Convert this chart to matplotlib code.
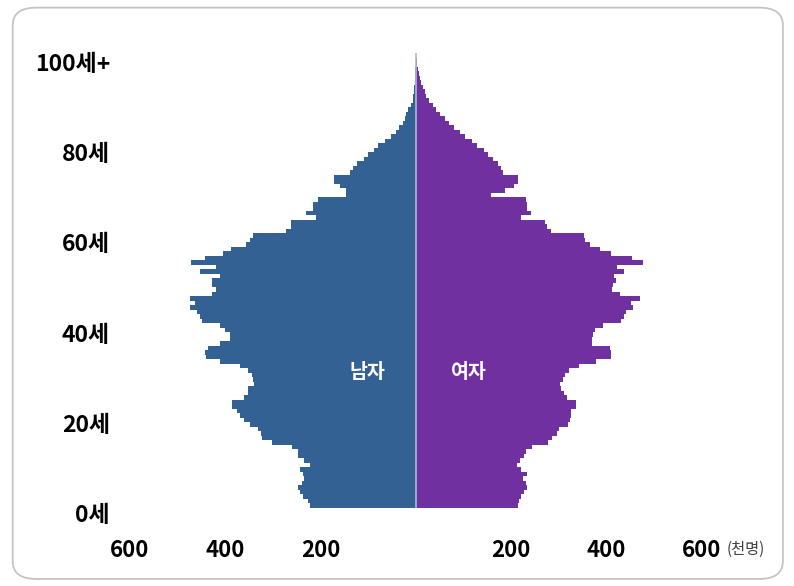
import matplotlib
matplotlib.use("Agg")
import matplotlib.pyplot as plt
from matplotlib.patches import FancyBboxPatch

plt.rcParams["font.family"] = ["Noto Sans CJK KR", "DejaVu Sans"]

# ages 0 .. 100+
ages = list(range(101))

# thousands of persons
male = [
    223, 227, 238, 244, 248, 240, 234, 238, 244, 223,
    234, 248, 248, 261, 303, 324, 326, 332, 349, 360,
    370, 376, 385, 385, 360, 353, 353, 339, 341, 345,
    353, 370, 412, 441, 443, 437, 412, 391, 391, 401,
    412, 450, 454, 460, 475, 464, 475, 427, 420, 427,
    429, 412, 454, 419, 471, 443, 405, 388, 356, 349,
    342, 272, 262, 262, 209, 230, 216, 216, 206, 147,
    147, 160, 171, 171, 139, 133, 123, 110, 100, 89,
    79, 64, 53, 43, 35, 28, 24, 20, 16, 11.5,
    7, 6, 5, 4, 3, 2.5, 2, 1.5, 1, 1, 0.5,
]
female = [
    215, 217, 221, 227, 232, 230, 225, 232, 221, 211,
    219, 227, 230, 244, 276, 286, 295, 301, 318, 324,
    326, 326, 336, 336, 316, 311, 305, 303, 309, 313,
    322, 343, 378, 410, 410, 406, 370, 370, 372, 376,
    393, 431, 437, 441, 456, 452, 469, 427, 412, 414,
    420, 415, 437, 422, 477, 454, 410, 385, 364, 355,
    353, 284, 274, 271, 221, 242, 232, 232, 230, 158,
    186, 205, 215, 215, 182, 178, 172, 162, 152, 142,
    128, 117, 103, 92, 79, 70, 60, 50, 43, 35,
    28, 22, 19, 15, 11, 8, 7, 5, 3, 2, 1,
]

age_labels = ["0세", "20세", "40세", "60세", "80세", "100세+"]
age_label_pos = [0, 20, 40, 60, 80, 100]
xticks = [-600, -400, -200, 200, 400, 600]
xtick_labels = ["600", "400", "200", "200", "400", "600"]

male_color = "#336193"
female_color = "#7030A0"

fig = plt.figure(figsize=(7.94, 5.86), dpi=100)

# rounded frame round the whole chart
frame = FancyBboxPatch((0.016, 0.012), 0.97, 0.975,
                       boxstyle="round,pad=0,rounding_size=0.03",
                       transform=fig.transFigure, facecolor="none",
                       edgecolor="#C4C4C4", linewidth=1.3)
fig.patches.append(frame)

ax = fig.add_axes([130 / 794, 78 / 586, 572 / 794, 455 / 586])
ax.set_facecolor("none")

ax.barh(ages, [-v for v in male], height=1.0, color=male_color,
        linewidth=0, antialiased=False)
ax.barh(ages, female, height=1.0, color=female_color,
        linewidth=0, antialiased=False)
ax.axvline(0, color="#A9BCD2", linewidth=1.2, zorder=3)

ax.set_xlim(-600, 600)
ax.set_ylim(-0.5, 100.5)
for s in ax.spines.values():
    s.set_visible(False)
ax.set_yticks([])
ax.set_xticks(xticks)
ax.set_xticklabels(xtick_labels, fontsize=16, fontweight="bold")
ax.tick_params(axis="x", length=0, pad=22)

# age labels to the left, slightly below each bar
ytr = ax.get_yaxis_transform()
for lab, a in zip(age_labels, age_label_pos):
    ax.text(-0.035, a - 2.1, lab, transform=ytr, ha="right", va="center",
            fontsize=16.5, fontweight="bold")

fig.text(727 / 794, 1 - 549 / 586, "(천명)", fontsize=11, color="#404040",
         ha="left", va="center")

ax.text(-103, 29.6, "남자", color="white", fontsize=14, fontweight="bold",
        ha="center", va="center")
ax.text(111, 29.6, "여자", color="white", fontsize=14, fontweight="bold",
        ha="center", va="center")

fig.savefig("out.png", dpi=100, facecolor="white")
